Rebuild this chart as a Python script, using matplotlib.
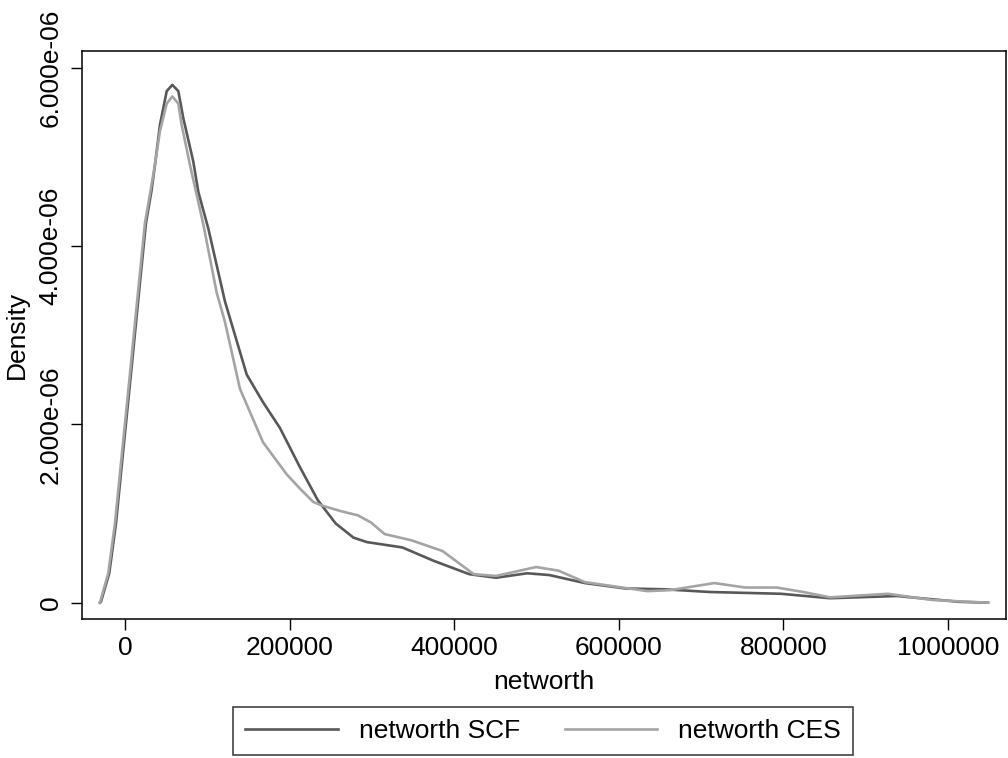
"""
    kernel density of networth, SCF vs CES
"""

import matplotlib
matplotlib.use("Agg")
import matplotlib.pyplot as plt

# values (x in dollars, density in 1e-6)
scf_x = [-30400, -29200, -19100, -10900, -4900, 1200, 7300, 13400, 19400, 25500,
         32200, 36450, 42500, 50700, 57500, 64800, 70800, 83000, 89100, 101200,
         121500, 147900, 167700, 188300, 212600, 234300, 255900, 277600, 293800, 337000,
         375000, 418300, 450800, 488700, 515600, 558900, 607500, 656100, 710500, 797000,
         856600, 937900, 1013300, 1048500]
scf_y = [0.0, 0.01, 0.33, 0.89, 1.45, 2.01, 2.57, 3.14, 3.70, 4.26,
         4.62, 4.91, 5.36, 5.74, 5.81, 5.74, 5.44, 4.95, 4.61, 4.20,
         3.38, 2.56, 2.25, 1.96, 1.52, 1.15, 0.89, 0.73, 0.68, 0.62,
         0.47, 0.32, 0.28, 0.33, 0.31, 0.22, 0.16, 0.15, 0.12, 0.10,
         0.05, 0.075, 0.01, 0.0]

ces_x = [-30400, -20300, -12150, -6100, 0, 6100, 12150, 18200, 24300, 31000,
         35800, 42500, 50700, 57500, 64800, 68900, 79000, 86300, 95100, 111400,
         121500, 139700, 167700, 196500, 212600, 228800, 239400, 261200, 283000, 298900,
         315400, 348000, 385800, 423700, 450800, 499400, 526500, 558900, 634700, 661800,
         716000, 753800, 791700, 824100, 856600, 927000, 981100, 1048500]
ces_y = [0.0, 0.33, 0.89, 1.45, 2.01, 2.57, 3.14, 3.70, 4.26, 4.62,
         4.88, 5.29, 5.60, 5.68, 5.60, 5.36, 4.91, 4.61, 4.25, 3.48,
         3.15, 2.40, 1.80, 1.44, 1.28, 1.13, 1.09, 1.03, 0.98, 0.90,
         0.77, 0.70, 0.58, 0.32, 0.30, 0.40, 0.36, 0.23, 0.13, 0.14,
         0.22, 0.17, 0.17, 0.12, 0.06, 0.10, 0.03, 0.0]

x_ticks = [0, 200000, 400000, 600000, 800000, 1000000]
y_ticks = [0, 2e-6, 4e-6, 6e-6]
y_tick_labels = ["0", "2.000e-06", "4.000e-06", "6.000e-06"]


def main():
    plt.rcParams["font.family"] = ["Liberation Sans", "DejaVu Sans"]
    fs = 19

    fig = plt.figure(figsize=(10.08, 7.58), dpi=100)
    ax = fig.add_axes([82 / 1008, 1 - 619 / 758, 924 / 1008, 568 / 758])

    ax.plot(scf_x, [v * 1e-6 for v in scf_y], color="#585858", lw=1.9, label="networth SCF")
    ax.plot(ces_x, [v * 1e-6 for v in ces_y], color="#a4a4a4", lw=1.9, label="networth CES")

    ax.set_xlim(-52200, 1070400)
    ax.set_ylim(-0.183e-6, 6.19e-6)

    ax.set_xticks(x_ticks)
    ax.set_xticklabels([str(t) for t in x_ticks], fontsize=fs)
    ax.set_yticks(y_ticks)
    ax.set_yticklabels(y_tick_labels, fontsize=fs, rotation=90, va="center")
    ax.tick_params(axis="both", length=8, width=1.0, color="black", direction="out")
    ax.tick_params(axis="x", pad=4)
    ax.tick_params(axis="y", pad=6)

    for s in ax.spines.values():
        s.set_linewidth(1.1)
        s.set_color("black")

    ax.set_xlabel("networth", fontsize=fs)
    ax.xaxis.set_label_coords(0.5, -0.09)
    ax.set_ylabel("Density", fontsize=fs)
    ax.yaxis.set_label_coords(-0.057, 0.5)

    leg = fig.legend(loc="center", bbox_to_anchor=(543 / 1008, 1 - 731 / 758),
                     ncol=2, fontsize=fs, frameon=True, fancybox=False,
                     edgecolor="black", handlelength=3.5, handletextpad=0.8,
                     columnspacing=1.7, borderpad=0.45)
    leg.get_frame().set_linewidth(1.1)

    fig.savefig("out.png", dpi=100, facecolor="white")


if __name__ == "__main__":
    main()
